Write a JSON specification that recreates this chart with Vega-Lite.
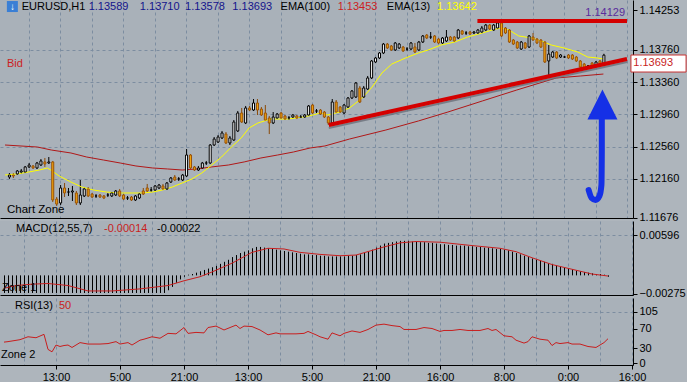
{
"$schema": "https://vega.github.io/schema/vega-lite/v6.json",
"background": "#aeb5bc",
"padding": 0,
"spacing": 3,
"bounds": "flush",
"config": {
  "font": "Liberation Sans",
  "view": {"stroke": null, "fill": "#a9b1b9"},
  "axis": {"domainColor": "#000000", "tickColor": "#000000", "labelColor": "#000000", "labelFont": "Liberation Sans", "labelFontSize": 11, "gridColor": "#7c8da0", "gridDash": [3, 3], "tickSize": 4, "labelPadding": 2, "labelOverlap": false, "labelFlush": false},
  "text": {"font": "Liberation Sans", "fontSize": 11}
},
"datasets": {
  "candles": [
{"i":0,"o":1.12182,"h":1.12232,"l":1.12158,"c":1.12207},
{"i":1,"o":1.12207,"h":1.12232,"l":1.12170,"c":1.12195},
{"i":2,"o":1.12220,"h":1.12269,"l":1.12207,"c":1.12257},
{"i":3,"o":1.12244,"h":1.12282,"l":1.12220,"c":1.12257},
{"i":4,"o":1.12244,"h":1.12319,"l":1.12232,"c":1.12307},
{"i":5,"o":1.12307,"h":1.12356,"l":1.12294,"c":1.12331},
{"i":6,"o":1.12319,"h":1.12331,"l":1.12282,"c":1.12294},
{"i":7,"o":1.12294,"h":1.12369,"l":1.12282,"c":1.12356},
{"i":8,"o":1.12331,"h":1.12405,"l":1.12319,"c":1.12381},
{"i":9,"o":1.12369,"h":1.12418,"l":1.12307,"c":1.12344},
{"i":10,"o":1.12356,"h":1.12430,"l":1.12344,"c":1.12369},
{"i":11,"o":1.12369,"h":1.12381,"l":1.11872,"c":1.11897},
{"i":12,"o":1.11909,"h":1.11934,"l":1.11823,"c":1.11847},
{"i":13,"o":1.11860,"h":1.12083,"l":1.11835,"c":1.12046},
{"i":14,"o":1.12046,"h":1.12108,"l":1.11934,"c":1.11984},
{"i":15,"o":1.11996,"h":1.12046,"l":1.11947,"c":1.11996},
{"i":16,"o":1.11996,"h":1.12071,"l":1.11885,"c":1.12009},
{"i":17,"o":1.11984,"h":1.12009,"l":1.11835,"c":1.11860},
{"i":18,"o":1.11860,"h":1.12145,"l":1.11835,"c":1.11959},
{"i":19,"o":1.11947,"h":1.12058,"l":1.11934,"c":1.12034},
{"i":20,"o":1.12034,"h":1.12058,"l":1.11934,"c":1.11947},
{"i":21,"o":1.11971,"h":1.11984,"l":1.11922,"c":1.11934},
{"i":22,"o":1.11947,"h":1.11971,"l":1.11922,"c":1.11947},
{"i":23,"o":1.11959,"h":1.11971,"l":1.11922,"c":1.11934},
{"i":24,"o":1.11947,"h":1.11959,"l":1.11909,"c":1.11922},
{"i":25,"o":1.11959,"h":1.11984,"l":1.11934,"c":1.11959},
{"i":26,"o":1.11947,"h":1.11996,"l":1.11934,"c":1.11984},
{"i":27,"o":1.11959,"h":1.12021,"l":1.11947,"c":1.12009},
{"i":28,"o":1.12009,"h":1.12034,"l":1.11934,"c":1.11947},
{"i":29,"o":1.11959,"h":1.11971,"l":1.11897,"c":1.11909},
{"i":30,"o":1.11922,"h":1.11947,"l":1.11897,"c":1.11922},
{"i":31,"o":1.11934,"h":1.11947,"l":1.11885,"c":1.11897},
{"i":32,"o":1.11897,"h":1.11959,"l":1.11885,"c":1.11947},
{"i":33,"o":1.11922,"h":1.11984,"l":1.11909,"c":1.11971},
{"i":34,"o":1.12009,"h":1.12046,"l":1.11959,"c":1.11971},
{"i":35,"o":1.12046,"h":1.12096,"l":1.11996,"c":1.12009},
{"i":36,"o":1.12021,"h":1.12058,"l":1.11996,"c":1.12021},
{"i":37,"o":1.12021,"h":1.12083,"l":1.12009,"c":1.12071},
{"i":38,"o":1.12046,"h":1.12096,"l":1.12034,"c":1.12083},
{"i":39,"o":1.12071,"h":1.12096,"l":1.12021,"c":1.12034},
{"i":40,"o":1.12034,"h":1.12120,"l":1.12021,"c":1.12108},
{"i":41,"o":1.12120,"h":1.12182,"l":1.12108,"c":1.12170},
{"i":42,"o":1.12182,"h":1.12207,"l":1.12133,"c":1.12145},
{"i":43,"o":1.12158,"h":1.12182,"l":1.12133,"c":1.12158},
{"i":44,"o":1.12145,"h":1.12220,"l":1.12133,"c":1.12207},
{"i":45,"o":1.12195,"h":1.12529,"l":1.12182,"c":1.12455},
{"i":46,"o":1.12455,"h":1.12467,"l":1.12282,"c":1.12294},
{"i":47,"o":1.12307,"h":1.12319,"l":1.12257,"c":1.12269},
{"i":48,"o":1.12269,"h":1.12319,"l":1.12257,"c":1.12294},
{"i":49,"o":1.12294,"h":1.12369,"l":1.12282,"c":1.12356},
{"i":50,"o":1.12356,"h":1.12381,"l":1.12331,"c":1.12356},
{"i":51,"o":1.12356,"h":1.12591,"l":1.12344,"c":1.12579},
{"i":52,"o":1.12579,"h":1.12678,"l":1.12567,"c":1.12653},
{"i":53,"o":1.12616,"h":1.12703,"l":1.12604,"c":1.12678},
{"i":54,"o":1.12666,"h":1.12753,"l":1.12653,"c":1.12728},
{"i":55,"o":1.12715,"h":1.12740,"l":1.12591,"c":1.12604},
{"i":56,"o":1.12604,"h":1.12691,"l":1.12579,"c":1.12666},
{"i":57,"o":1.12641,"h":1.12889,"l":1.12629,"c":1.12864},
{"i":58,"o":1.12753,"h":1.13001,"l":1.12740,"c":1.12976},
{"i":59,"o":1.12976,"h":1.13038,"l":1.12852,"c":1.12864},
{"i":60,"o":1.12852,"h":1.13063,"l":1.12839,"c":1.13038},
{"i":61,"o":1.13038,"h":1.13063,"l":1.13001,"c":1.13013},
{"i":62,"o":1.13013,"h":1.13149,"l":1.13001,"c":1.13100},
{"i":63,"o":1.13100,"h":1.13149,"l":1.12951,"c":1.13013},
{"i":64,"o":1.13025,"h":1.13050,"l":1.12939,"c":1.12951},
{"i":65,"o":1.12976,"h":1.13075,"l":1.12877,"c":1.12889},
{"i":66,"o":1.12914,"h":1.12939,"l":1.12715,"c":1.12852},
{"i":67,"o":1.12852,"h":1.12988,"l":1.12839,"c":1.12926},
{"i":68,"o":1.12914,"h":1.12976,"l":1.12901,"c":1.12963},
{"i":69,"o":1.12976,"h":1.12988,"l":1.12901,"c":1.12914},
{"i":70,"o":1.12939,"h":1.12951,"l":1.12889,"c":1.12901},
{"i":71,"o":1.12914,"h":1.12939,"l":1.12889,"c":1.12914},
{"i":72,"o":1.12926,"h":1.12963,"l":1.12914,"c":1.12951},
{"i":73,"o":1.12939,"h":1.12951,"l":1.12901,"c":1.12914},
{"i":74,"o":1.12926,"h":1.12951,"l":1.12914,"c":1.12926},
{"i":75,"o":1.12926,"h":1.12963,"l":1.12914,"c":1.12951},
{"i":76,"o":1.12951,"h":1.13075,"l":1.12939,"c":1.13063},
{"i":77,"o":1.13075,"h":1.13087,"l":1.12963,"c":1.12976},
{"i":78,"o":1.13001,"h":1.13025,"l":1.12976,"c":1.13001},
{"i":79,"o":1.13013,"h":1.13025,"l":1.12951,"c":1.12963},
{"i":80,"o":1.12988,"h":1.13001,"l":1.12914,"c":1.12926},
{"i":81,"o":1.12926,"h":1.12939,"l":1.12827,"c":1.12852},
{"i":82,"o":1.12852,"h":1.13149,"l":1.12839,"c":1.13112},
{"i":83,"o":1.13112,"h":1.13137,"l":1.12976,"c":1.12988},
{"i":84,"o":1.13050,"h":1.13063,"l":1.12976,"c":1.12988},
{"i":85,"o":1.12976,"h":1.13087,"l":1.12963,"c":1.13075},
{"i":86,"o":1.13050,"h":1.13174,"l":1.13038,"c":1.13162},
{"i":87,"o":1.13162,"h":1.13261,"l":1.13149,"c":1.13249},
{"i":88,"o":1.13174,"h":1.13360,"l":1.13162,"c":1.13348},
{"i":89,"o":1.13286,"h":1.13311,"l":1.13100,"c":1.13112},
{"i":90,"o":1.13174,"h":1.13311,"l":1.13162,"c":1.13286},
{"i":91,"o":1.13273,"h":1.13435,"l":1.13261,"c":1.13410},
{"i":92,"o":1.13410,"h":1.13633,"l":1.13397,"c":1.13621},
{"i":93,"o":1.13608,"h":1.13670,"l":1.13596,"c":1.13658},
{"i":94,"o":1.13658,"h":1.13732,"l":1.13645,"c":1.13720},
{"i":95,"o":1.13720,"h":1.13844,"l":1.13707,"c":1.13831},
{"i":96,"o":1.13831,"h":1.13844,"l":1.13769,"c":1.13782},
{"i":97,"o":1.13807,"h":1.13819,"l":1.13745,"c":1.13757},
{"i":98,"o":1.13757,"h":1.13856,"l":1.13745,"c":1.13844},
{"i":99,"o":1.13782,"h":1.13844,"l":1.13769,"c":1.13831},
{"i":100,"o":1.13794,"h":1.13807,"l":1.13732,"c":1.13745},
{"i":101,"o":1.13769,"h":1.13794,"l":1.13745,"c":1.13769},
{"i":102,"o":1.13769,"h":1.13856,"l":1.13757,"c":1.13844},
{"i":103,"o":1.13794,"h":1.13844,"l":1.13720,"c":1.13732},
{"i":104,"o":1.13757,"h":1.13869,"l":1.13745,"c":1.13856},
{"i":105,"o":1.13856,"h":1.13943,"l":1.13844,"c":1.13931},
{"i":106,"o":1.13943,"h":1.13955,"l":1.13893,"c":1.13906},
{"i":107,"o":1.13918,"h":1.13980,"l":1.13893,"c":1.13918},
{"i":108,"o":1.13931,"h":1.13943,"l":1.13844,"c":1.13856},
{"i":109,"o":1.13893,"h":1.13906,"l":1.13831,"c":1.13844},
{"i":110,"o":1.13844,"h":1.13918,"l":1.13831,"c":1.13906},
{"i":111,"o":1.13869,"h":1.14005,"l":1.13856,"c":1.13918},
{"i":112,"o":1.13918,"h":1.13931,"l":1.13869,"c":1.13881},
{"i":113,"o":1.13918,"h":1.13931,"l":1.13856,"c":1.13869},
{"i":114,"o":1.13906,"h":1.14017,"l":1.13893,"c":1.14005},
{"i":115,"o":1.13993,"h":1.14005,"l":1.13943,"c":1.13955},
{"i":116,"o":1.13968,"h":1.13993,"l":1.13943,"c":1.13968},
{"i":117,"o":1.13980,"h":1.13993,"l":1.13943,"c":1.13955},
{"i":118,"o":1.13968,"h":1.13993,"l":1.13955,"c":1.13980},
{"i":119,"o":1.13968,"h":1.14017,"l":1.13955,"c":1.14005},
{"i":120,"o":1.13980,"h":1.14055,"l":1.13968,"c":1.14030},
{"i":121,"o":1.14005,"h":1.14080,"l":1.13993,"c":1.14067},
{"i":122,"o":1.14067,"h":1.14080,"l":1.14005,"c":1.14017},
{"i":123,"o":1.14005,"h":1.14080,"l":1.13993,"c":1.14067},
{"i":124,"o":1.14030,"h":1.14105,"l":1.14017,"c":1.14092},
{"i":125,"o":1.14092,"h":1.14129,"l":1.13918,"c":1.13931},
{"i":126,"o":1.14030,"h":1.14042,"l":1.13955,"c":1.13968},
{"i":127,"o":1.14005,"h":1.14017,"l":1.13844,"c":1.13856},
{"i":128,"o":1.13881,"h":1.13893,"l":1.13819,"c":1.13831},
{"i":129,"o":1.13856,"h":1.13869,"l":1.13769,"c":1.13782},
{"i":130,"o":1.13769,"h":1.13869,"l":1.13757,"c":1.13856},
{"i":131,"o":1.13844,"h":1.13856,"l":1.13769,"c":1.13782},
{"i":132,"o":1.13794,"h":1.13943,"l":1.13782,"c":1.13931},
{"i":133,"o":1.13918,"h":1.13968,"l":1.13869,"c":1.13881},
{"i":134,"o":1.13893,"h":1.13906,"l":1.13831,"c":1.13844},
{"i":135,"o":1.13881,"h":1.13893,"l":1.13782,"c":1.13794},
{"i":136,"o":1.13856,"h":1.13869,"l":1.13596,"c":1.13608},
{"i":137,"o":1.13621,"h":1.13819,"l":1.13447,"c":1.13707},
{"i":138,"o":1.13670,"h":1.13745,"l":1.13658,"c":1.13732},
{"i":139,"o":1.13732,"h":1.13745,"l":1.13645,"c":1.13658},
{"i":140,"o":1.13670,"h":1.13707,"l":1.13658,"c":1.13695},
{"i":141,"o":1.13670,"h":1.13683,"l":1.13658,"c":1.13670},
{"i":142,"o":1.13695,"h":1.13707,"l":1.13645,"c":1.13658},
{"i":143,"o":1.13695,"h":1.13707,"l":1.13633,"c":1.13645},
{"i":144,"o":1.13670,"h":1.13683,"l":1.13608,"c":1.13621},
{"i":145,"o":1.13621,"h":1.13633,"l":1.13534,"c":1.13546},
{"i":146,"o":1.13583,"h":1.13596,"l":1.13521,"c":1.13534},
{"i":147,"o":1.13559,"h":1.13571,"l":1.13534,"c":1.13559},
{"i":148,"o":1.13596,"h":1.13608,"l":1.13534,"c":1.13546},
{"i":149,"o":1.13571,"h":1.13621,"l":1.13559,"c":1.13608},
{"i":150,"o":1.13621,"h":1.13633,"l":1.13571,"c":1.13583},
{"i":151,"o":1.13589,"h":1.13710,"l":1.13578,"c":1.13693}
  ],
  "ema13": [
{"i":-1,"v":1.12207},{"i":2,"v":1.12220},{"i":5,"v":1.12244},{"i":7.75,"v":1.12269},{"i":9.75,"v":1.12294},{"i":11,"v":1.12257},{"i":12.75,"v":1.12195},{"i":15.75,"v":1.12120},{"i":18.5,"v":1.12058},{"i":21.5,"v":1.12021},{"i":24.75,"v":1.11996},{"i":28.25,"v":1.11984},{"i":31.5,"v":1.11984},{"i":34,"v":1.11984},{"i":36.5,"v":1.11996},{"i":39,"v":1.12021},{"i":41.5,"v":1.12058},{"i":44,"v":1.12108},{"i":46.5,"v":1.12158},{"i":49,"v":1.12232},{"i":51.5,"v":1.12331},{"i":54,"v":1.12430},{"i":56.5,"v":1.12554},{"i":59,"v":1.12666},{"i":61,"v":1.12790},{"i":63.25,"v":1.12852},{"i":66.5,"v":1.12901},{"i":70.75,"v":1.12901},{"i":74.75,"v":1.12926},{"i":77.25,"v":1.12951},{"i":79,"v":1.12976},{"i":81,"v":1.12951},{"i":84,"v":1.12988},{"i":86.5,"v":1.13038},{"i":89.75,"v":1.13162},{"i":92.25,"v":1.13298},{"i":94.75,"v":1.13472},{"i":97.25,"v":1.13583},{"i":100.75,"v":1.13658},{"i":104,"v":1.13720},{"i":106.5,"v":1.13757},{"i":109.75,"v":1.13819},{"i":113.25,"v":1.13856},{"i":116.5,"v":1.13918},{"i":120.25,"v":1.13968},{"i":122.75,"v":1.14005},{"i":125,"v":1.14030},{"i":127,"v":1.14005},{"i":129.5,"v":1.13931},{"i":132.75,"v":1.13906},{"i":135.25,"v":1.13869},{"i":137.75,"v":1.13819},{"i":141,"v":1.13782},{"i":144.5,"v":1.13732},{"i":147,"v":1.13670},{"i":149.5,"v":1.13658},{"i":151,"v":1.13645}
  ],
  "ema100": [
{"i":-1,"v":1.12579},{"i":7.25,"v":1.12554},{"i":10.75,"v":1.12517},{"i":15.75,"v":1.12480},{"i":19.75,"v":1.12430},{"i":24,"v":1.12393},{"i":28.25,"v":1.12356},{"i":32.25,"v":1.12319},{"i":36.5,"v":1.12294},{"i":40.25,"v":1.12282},{"i":44,"v":1.12269},{"i":47.75,"v":1.12282},{"i":51.5,"v":1.12307},{"i":55.75,"v":1.12331},{"i":59.75,"v":1.12369},{"i":64,"v":1.12418},{"i":68.25,"v":1.12455},{"i":72.25,"v":1.12492},{"i":76.5,"v":1.12542},{"i":80.25,"v":1.12567},{"i":86.5,"v":1.12653},{"i":95.75,"v":1.12765},{"i":104,"v":1.12877},{"i":111.5,"v":1.12988},{"i":120.25,"v":1.13125},{"i":129,"v":1.13261},{"i":139,"v":1.13410},{"i":145.25,"v":1.13435},{"i":151,"v":1.13459}
  ],
  "macd": [
{"i":0,"m":-0.0026},{"i":1,"m":-0.0026},{"i":2,"m":-0.0026},{"i":3,"m":-0.0026},{"i":4,"m":-0.0026},{"i":5,"m":-0.0026},{"i":6,"m":-0.0026},{"i":7,"m":-0.0026},{"i":8,"m":-0.0026},{"i":9,"m":-0.0026},{"i":10,"m":-0.0026},{"i":11,"m":-0.0026},{"i":12,"m":-0.0026},{"i":13,"m":-0.0026},{"i":14,"m":-0.0026},{"i":15,"m":-0.0026},{"i":16,"m":-0.0026},{"i":17,"m":-0.0026},{"i":18,"m":-0.0026},{"i":19,"m":-0.0026},{"i":20,"m":-0.0026},{"i":21,"m":-0.0026},{"i":22,"m":-0.0026},{"i":23,"m":-0.0026},{"i":24,"m":-0.0026},{"i":25,"m":-0.0026},{"i":26,"m":-0.0026},{"i":27,"m":-0.0026},{"i":28,"m":-0.0026},{"i":29,"m":-0.0026},{"i":30,"m":-0.0026},{"i":31,"m":-0.0026},{"i":32,"m":-0.0026},{"i":33,"m":-0.0026},{"i":34,"m":-0.0026},{"i":35,"m":-0.0026},{"i":36,"m":-0.0026},{"i":37,"m":-0.0026},{"i":38,"m":-0.0026},{"i":39,"m":-0.0026},{"i":40,"m":-0.0026},
{"i":41,"m":-0.0022},{"i":42,"m":-0.0017},{"i":43,"m":-0.0011},{"i":44,"m":-0.0006},{"i":45,"m":-0.0002},{"i":46,"m":0.0001},{"i":47,"m":0.0002},{"i":48,"m":0.0004},{"i":49,"m":0.0006},{"i":50,"m":0.0008},{"i":51,"m":0.0010},{"i":52,"m":0.0012},{"i":53,"m":0.0014},{"i":54,"m":0.0017},{"i":55,"m":0.0020},{"i":56,"m":0.0023},{"i":57,"m":0.0027},{"i":58,"m":0.0030},{"i":59,"m":0.0033},{"i":60,"m":0.0035},{"i":61,"m":0.0037},{"i":62,"m":0.0040},{"i":63,"m":0.0042},{"i":64,"m":0.0042},{"i":65,"m":0.0041},{"i":66,"m":0.0040},{"i":67,"m":0.0039},{"i":68,"m":0.0038},{"i":69,"m":0.0037},{"i":70,"m":0.0036},{"i":71,"m":0.0035},{"i":72,"m":0.0034},{"i":73,"m":0.0033},{"i":74,"m":0.0032},{"i":75,"m":0.0031},{"i":76,"m":0.0031},{"i":77,"m":0.0030},{"i":78,"m":0.0030},{"i":79,"m":0.0029},{"i":80,"m":0.0029},{"i":81,"m":0.0028},{"i":82,"m":0.0028},{"i":83,"m":0.0028},{"i":84,"m":0.0028},{"i":85,"m":0.0028},{"i":86,"m":0.0029},{"i":87,"m":0.0029},{"i":88,"m":0.0030},{"i":89,"m":0.0031},{"i":90,"m":0.0033},{"i":91,"m":0.0035},{"i":92,"m":0.0038},{"i":93,"m":0.0041},{"i":94,"m":0.0044},{"i":95,"m":0.0047},{"i":96,"m":0.0048},{"i":97,"m":0.0049},{"i":98,"m":0.0050},{"i":99,"m":0.0051},{"i":100,"m":0.0051},{"i":101,"m":0.0051},{"i":102,"m":0.0050},{"i":103,"m":0.0050},{"i":104,"m":0.0049},{"i":105,"m":0.0049},{"i":106,"m":0.0048},{"i":107,"m":0.0048},{"i":108,"m":0.0047},{"i":109,"m":0.0046},{"i":110,"m":0.0046},{"i":111,"m":0.0045},{"i":112,"m":0.0045},{"i":113,"m":0.0044},{"i":114,"m":0.0044},{"i":115,"m":0.0044},{"i":116,"m":0.0043},{"i":117,"m":0.0043},{"i":118,"m":0.0042},{"i":119,"m":0.0042},{"i":120,"m":0.0041},{"i":121,"m":0.0041},{"i":122,"m":0.0040},{"i":123,"m":0.0039},{"i":124,"m":0.0039},{"i":125,"m":0.0038},{"i":126,"m":0.0037},{"i":127,"m":0.0035},{"i":128,"m":0.0033},{"i":129,"m":0.0031},{"i":130,"m":0.0029},{"i":131,"m":0.0027},{"i":132,"m":0.0025},{"i":133,"m":0.0023},{"i":134,"m":0.0022},{"i":135,"m":0.0020},{"i":136,"m":0.0018},{"i":137,"m":0.0017},{"i":138,"m":0.0015},{"i":139,"m":0.0013},{"i":140,"m":0.0012},{"i":141,"m":0.0010},{"i":142,"m":0.0009},{"i":143,"m":0.0007},{"i":144,"m":0.0006},{"i":145,"m":0.0005},{"i":146,"m":0.0004},{"i":147,"m":0.0003},{"i":148,"m":0.0002},{"i":149,"m":0.0002},{"i":150,"m":0.0001},{"i":151,"m":-0.0002}
  ],
  "signal": [
{"i":0,"s":-0.0019},{"i":3,"s":-0.0015},{"i":7,"s":-0.0013},{"i":11,"s":-0.0012},{"i":16,"s":-0.0015},{"i":21,"s":-0.0023},{"i":27,"s":-0.0023},{"i":34,"s":-0.0020},{"i":41,"s":-0.0015},{"i":45,"s":-0.0008},{"i":49,"s":-0.0002},{"i":52,"s":0.0005},{"i":57,"s":0.0018},{"i":62,"s":0.0034},{"i":66,"s":0.0040},{"i":70,"s":0.0039},{"i":74,"s":0.0034},{"i":79,"s":0.0031},{"i":84,"s":0.0029},{"i":88,"s":0.0030},{"i":95,"s":0.0042},{"i":99,"s":0.0048},{"i":103,"s":0.0050},{"i":109,"s":0.0049},{"i":117,"s":0.0044},{"i":124,"s":0.0040},{"i":128,"s":0.0035},{"i":132,"s":0.0026},{"i":137,"s":0.0016},{"i":142,"s":0.0009},{"i":147,"s":0.0002},{"i":151,"s":-0.0001}
  ],
  "rsi": [
{"i":0,"r":43},{"i":1,"r":44},{"i":4,"r":48},{"i":5,"r":51},{"i":6,"r":54},{"i":8,"r":52},{"i":10,"r":59},{"i":11,"r":28},{"i":12,"r":23},{"i":13,"r":37},{"i":14,"r":34},{"i":15,"r":36},{"i":16,"r":37},{"i":17,"r":32},{"i":19,"r":42},{"i":21,"r":39},{"i":24,"r":39},{"i":26,"r":40},{"i":28,"r":44},{"i":29,"r":39},{"i":31,"r":42},{"i":32,"r":37},{"i":34,"r":47},{"i":35,"r":49},{"i":37,"r":54},{"i":39,"r":51},{"i":41,"r":61},{"i":43,"r":60},{"i":45,"r":73},{"i":46,"r":61},{"i":48,"r":63},{"i":50,"r":62},{"i":51,"r":73},{"i":53,"r":76},{"i":55,"r":68},{"i":58,"r":78},{"i":59,"r":71},{"i":60,"r":76},{"i":62,"r":75},{"i":64,"r":68},{"i":66,"r":58},{"i":68,"r":62},{"i":69,"r":60},{"i":73,"r":60},{"i":75,"r":61},{"i":76,"r":65},{"i":78,"r":58},{"i":79,"r":54},{"i":81,"r":49},{"i":82,"r":62},{"i":84,"r":56},{"i":85,"r":61},{"i":87,"r":66},{"i":89,"r":63},{"i":91,"r":69},{"i":93,"r":78},{"i":95,"r":80},{"i":97,"r":77},{"i":99,"r":75},{"i":100,"r":69},{"i":103,"r":69},{"i":105,"r":73},{"i":107,"r":71},{"i":109,"r":65},{"i":110,"r":67},{"i":112,"r":67},{"i":114,"r":69},{"i":116,"r":67},{"i":119,"r":67},{"i":121,"r":71},{"i":122,"r":67},{"i":123,"r":69},{"i":125,"r":56},{"i":127,"r":54},{"i":128,"r":47},{"i":129,"r":44},{"i":130,"r":41},{"i":131,"r":44},{"i":132,"r":54},{"i":134,"r":49},{"i":136,"r":47},{"i":137,"r":36},{"i":138,"r":42},{"i":139,"r":40},{"i":141,"r":42},{"i":142,"r":39},{"i":144,"r":39},{"i":146,"r":34},{"i":148,"r":32},{"i":149,"r":37},{"i":150,"r":42},{"i":151,"r":50}
  ]
},
"vconcat": [
{
  "width": 633, "height": 218,
  "resolve": {"axis": {"x": "independent", "y": "independent"}},
  "layer": [
    {"data": {"name": "candles"}, "mark": {"type": "rule", "strokeWidth": 1, "xOffset": 0.5},
     "encoding": {"x": {"field": "i", "type": "quantitative", "scale": {"domain": [-1, 157.25], "nice": false, "zero": false},
        "axis": {"orient": "bottom", "values": [5,13,21,29,37,45,53,61,69,77,85,93,101,109,117,125,133,141,149,157], "labels": false, "ticks": false, "domain": true, "grid": true, "title": null}},
       "y": {"field": "l", "type": "quantitative", "scale": {"domain": [1.11674, 1.14377], "nice": false, "zero": false},
        "axis": {"orient": "right", "values": [1.14253, 1.1376, 1.1336, 1.1296, 1.1256, 1.1216, 1.11676], "format": ".5f", "title": null, "grid": true, "gridOpacity": {"condition": {"test": "datum.value > 1.142 || datum.value < 1.117", "value": 0}, "value": 1}}},
       "y2": {"field": "h"},
       "color": {"condition": {"test": "datum.c >= datum.o", "value": "#000000"}, "value": "#8a4a08"}}},
    {"mark": {"type": "rule", "color": "#5a2d9c", "strokeWidth": 1},
     "encoding": {"x": {"datum": -1, "scale": {"domain": [-1, 157.25], "nice": false, "zero": false}, "axis": null}, "x2": {"datum": 157.25}, "y": {"datum": 1.14129, "scale": {"domain": [1.11674, 1.14377], "nice": false, "zero": false}, "axis": null}}},
    {"mark": {"type": "rule", "color": "#c03030", "strokeWidth": 1},
     "encoding": {"x": {"datum": -1, "scale": {"domain": [-1, 157.25], "nice": false, "zero": false}, "axis": null}, "x2": {"datum": 157.25}, "y": {"datum": 1.13693, "scale": {"domain": [1.11674, 1.14377], "nice": false, "zero": false}, "axis": null}}},
    {"data": {"name": "ema100"}, "mark": {"type": "line", "color": "#b01818", "strokeWidth": 1},
     "encoding": {"x": {"field": "i", "type": "quantitative", "scale": {"domain": [-1, 157.25], "nice": false, "zero": false}, "axis": null}, "y": {"field": "v", "type": "quantitative", "scale": {"domain": [1.11674, 1.14377], "nice": false, "zero": false}, "axis": null}}},
    {"data": {"name": "ema13"}, "mark": {"type": "line", "color": "#ffff00", "strokeWidth": 1},
     "encoding": {"x": {"field": "i", "type": "quantitative", "scale": {"domain": [-1, 157.25], "nice": false, "zero": false}, "axis": null}, "y": {"field": "v", "type": "quantitative", "scale": {"domain": [1.11674, 1.14377], "nice": false, "zero": false}, "axis": null}}},
    {"data": {"name": "candles"}, "mark": {"type": "bar", "size": 2, "strokeWidth": 1, "xOffset": 0.5},
     "encoding": {"x": {"field": "i", "type": "quantitative", "scale": {"domain": [-1, 157.25], "nice": false, "zero": false}, "axis": null},
       "y": {"field": "o", "type": "quantitative", "scale": {"domain": [1.11674, 1.14377], "nice": false, "zero": false}, "axis": null},
       "y2": {"field": "c"},
       "fill": {"condition": {"test": "datum.c >= datum.o", "value": "#ffffff"}, "value": "#f2a60c"},
       "stroke": {"condition": {"test": "datum.c >= datum.o", "value": "#000000"}, "value": "#9a5208"}}},
    {"data": {"values": [{"i": 81.25, "p": 1.12790}, {"i": 157, "p": 1.13608}]}, "mark": {"type": "line", "color": "#6a707a", "strokeWidth": 2, "opacity": 0.8},
     "encoding": {"x": {"field": "i", "type": "quantitative", "scale": {"domain": [-1, 157.25], "nice": false, "zero": false}, "axis": null}, "y": {"field": "p", "type": "quantitative", "scale": {"domain": [1.11674, 1.14377], "nice": false, "zero": false}, "axis": null}}},
    {"data": {"values": [{"i": 81.25, "p": 1.12827}, {"i": 157, "p": 1.13645}]}, "mark": {"type": "line", "color": "#d40000", "strokeWidth": 4},
     "encoding": {"x": {"field": "i", "type": "quantitative", "scale": {"domain": [-1, 157.25], "nice": false, "zero": false}, "axis": null}, "y": {"field": "p", "type": "quantitative", "scale": {"domain": [1.11674, 1.14377], "nice": false, "zero": false}, "axis": null}}},
    {"data": {"values": [{"i": 119, "p": 1.14117}, {"i": 157, "p": 1.14117}]}, "mark": {"type": "line", "color": "#d40000", "strokeWidth": 4},
     "encoding": {"x": {"field": "i", "type": "quantitative", "scale": {"domain": [-1, 157.25], "nice": false, "zero": false}, "axis": null}, "y": {"field": "p", "type": "quantitative", "scale": {"domain": [1.11674, 1.14377], "nice": false, "zero": false}, "axis": null}}},
    {"data": {"values": [{"k":1,"i":150.6,"p":1.12914},{"k":2,"i":150.6,"p":1.12517},{"k":3,"i":150.5,"p":1.12083},{"k":4,"i":150,"p":1.11947},{"k":5,"i":149,"p":1.11897},{"k":6,"i":148,"p":1.11922},{"k":7,"i":147.25,"p":1.12021}]},
     "mark": {"type": "line", "color": "#1530e6", "strokeWidth": 6, "strokeCap": "round", "strokeJoin": "round", "interpolate": "monotone"},
     "encoding": {"x": {"field": "i", "type": "quantitative", "scale": {"domain": [-1, 157.25], "nice": false, "zero": false}, "axis": null}, "y": {"field": "p", "type": "quantitative", "scale": {"domain": [1.11674, 1.14377], "nice": false, "zero": false}, "axis": null}, "order": {"field": "k"}}},
    {"data": {"values": [{"i": 150.75, "p": 1.13081}]},
     "mark": {"type": "point", "shape": "M0,-1L1,1L-1,1Z", "size": 900, "filled": true, "color": "#1530e6", "opacity": 1},
     "encoding": {"x": {"field": "i", "type": "quantitative", "scale": {"domain": [-1, 157.25], "nice": false, "zero": false}, "axis": null}, "y": {"field": "p", "type": "quantitative", "scale": {"domain": [1.11674, 1.14377], "nice": false, "zero": false}, "axis": null}}},
    {"data": {"values": [{"i": 0.875, "p": 1.14296}]},
     "mark": {"type": "point", "shape": "square", "size": 121, "filled": true, "color": "#3a7fd5", "opacity": 1},
     "encoding": {"x": {"field": "i", "type": "quantitative", "scale": {"domain": [-1, 157.25], "nice": false, "zero": false}, "axis": null}, "y": {"field": "p", "type": "quantitative", "scale": {"domain": [1.11674, 1.14377], "nice": false, "zero": false}, "axis": null}}},
    {"data": {"values": [{"i": 0.875, "p": 1.14296, "t": "↓"}]},
     "mark": {"type": "text", "color": "#ffffff", "fontWeight": "bold", "fontSize": 10, "align": "center", "baseline": "middle"},
     "encoding": {"x": {"field": "i", "type": "quantitative", "scale": {"domain": [-1, 157.25], "nice": false, "zero": false}, "axis": null}, "y": {"field": "p", "type": "quantitative", "scale": {"domain": [1.11674, 1.14377], "nice": false, "zero": false}, "axis": null}, "text": {"field": "t"}}},
    {"data": {"values": [{"i": 3.25, "p": 1.14259, "t": "EURUSD,H1"}, {"i": 69, "p": 1.14259, "t": "EMA(100)"}, {"i": 96, "p": 1.14259, "t": "EMA(13)"}]},
     "mark": {"type": "text", "color": "#000000", "align": "left", "baseline": "alphabetic"},
     "encoding": {"x": {"field": "i", "type": "quantitative", "scale": {"domain": [-1, 157.25], "nice": false, "zero": false}, "axis": null}, "y": {"field": "p", "type": "quantitative", "scale": {"domain": [1.11674, 1.14377], "nice": false, "zero": false}, "axis": null}, "text": {"field": "t"}}},
    {"data": {"values": [{"i": 20.25, "p": 1.14259, "t": "1.13589"}, {"i": 33.25, "p": 1.14259, "t": "1.13710"}, {"i": 44.75, "p": 1.14259, "t": "1.13578"}, {"i": 56.75, "p": 1.14259, "t": "1.13693"}]},
     "mark": {"type": "text", "color": "#14148c", "align": "left", "baseline": "alphabetic"},
     "encoding": {"x": {"field": "i", "type": "quantitative", "scale": {"domain": [-1, 157.25], "nice": false, "zero": false}, "axis": null}, "y": {"field": "p", "type": "quantitative", "scale": {"domain": [1.11674, 1.14377], "nice": false, "zero": false}, "axis": null}, "text": {"field": "t"}}},
    {"data": {"values": [{"i": 83.5, "p": 1.14259, "t": "1.13453"}, {"i": -0.5, "p": 1.13546, "t": "Bid"}]},
     "mark": {"type": "text", "color": "#cc1e1e", "align": "left", "baseline": "alphabetic"},
     "encoding": {"x": {"field": "i", "type": "quantitative", "scale": {"domain": [-1, 157.25], "nice": false, "zero": false}, "axis": null}, "y": {"field": "p", "type": "quantitative", "scale": {"domain": [1.11674, 1.14377], "nice": false, "zero": false}, "axis": null}, "text": {"field": "t"}}},
    {"data": {"values": [{"i": 108.75, "p": 1.14259, "t": "1.13642"}]},
     "mark": {"type": "text", "color": "#ffff00", "align": "left", "baseline": "alphabetic"},
     "encoding": {"x": {"field": "i", "type": "quantitative", "scale": {"domain": [-1, 157.25], "nice": false, "zero": false}, "axis": null}, "y": {"field": "p", "type": "quantitative", "scale": {"domain": [1.11674, 1.14377], "nice": false, "zero": false}, "axis": null}, "text": {"field": "t"}}},
    {"data": {"values": [{"i": 156.5, "p": 1.14179, "t": "1.14129"}]},
     "mark": {"type": "text", "color": "#5a2d9c", "align": "right", "baseline": "alphabetic"},
     "encoding": {"x": {"field": "i", "type": "quantitative", "scale": {"domain": [-1, 157.25], "nice": false, "zero": false}, "axis": null}, "y": {"field": "p", "type": "quantitative", "scale": {"domain": [1.11674, 1.14377], "nice": false, "zero": false}, "axis": null}, "text": {"field": "t"}}},
    {"data": {"values": [{"i": -0.5, "p": 1.11736, "t": "Chart Zone"}]},
     "mark": {"type": "text", "color": "#000000", "fontSize": 11.5, "align": "left", "baseline": "alphabetic"},
     "encoding": {"x": {"field": "i", "type": "quantitative", "scale": {"domain": [-1, 157.25], "nice": false, "zero": false}, "axis": null}, "y": {"field": "p", "type": "quantitative", "scale": {"domain": [1.11674, 1.14377], "nice": false, "zero": false}, "axis": null}, "text": {"field": "t"}}},
    {"data": {"values": [{"i": 158, "i2": 172, "p": 1.13695, "p2": 1.13484}]},
     "mark": {"type": "rect", "fill": "#ffffff", "stroke": "#c83232", "strokeWidth": 1},
     "encoding": {"x": {"field": "i", "type": "quantitative", "scale": {"domain": [-1, 157.25], "nice": false, "zero": false}, "axis": null}, "x2": {"field": "i2"}, "y": {"field": "p", "type": "quantitative", "scale": {"domain": [1.11674, 1.14377], "nice": false, "zero": false}, "axis": null}, "y2": {"field": "p2"}}},
    {"data": {"values": [{"i": 158.6, "p": 1.13590, "t": "1.13693"}]},
     "mark": {"type": "text", "color": "#c81e1e", "align": "left", "baseline": "middle"},
     "encoding": {"x": {"field": "i", "type": "quantitative", "scale": {"domain": [-1, 157.25], "nice": false, "zero": false}, "axis": null}, "y": {"field": "p", "type": "quantitative", "scale": {"domain": [1.11674, 1.14377], "nice": false, "zero": false}, "axis": null}, "text": {"field": "t"}}}
  ]
},
{
  "width": 633, "height": 74,
  "resolve": {"axis": {"x": "independent", "y": "independent"}},
  "layer": [
    {"data": {"name": "macd"}, "mark": {"type": "rule", "color": "#000000", "strokeWidth": 1, "xOffset": 0.5},
     "encoding": {"x": {"field": "i", "type": "quantitative", "scale": {"domain": [-1, 157.25], "nice": false, "zero": false},
        "axis": {"orient": "bottom", "values": [5,13,21,29,37,45,53,61,69,77,85,93,101,109,117,125,133,141,149,157], "labels": false, "ticks": false, "domain": true, "grid": true, "title": null}},
       "y": {"field": "m", "type": "quantitative", "scale": {"domain": [-0.0029, 0.00803], "nice": false, "zero": false},
        "axis": {"orient": "right", "values": [0.00596, -0.00275], "format": ".5f", "title": null, "grid": true, "gridOpacity": {"condition": {"test": "datum.value < 0", "value": 0}, "value": 1}}},
       "y2": {"datum": 0}}},
    {"data": {"name": "signal"}, "mark": {"type": "line", "color": "#c81e1e", "strokeWidth": 1},
     "encoding": {"x": {"field": "i", "type": "quantitative", "scale": {"domain": [-1, 157.25], "nice": false, "zero": false}, "axis": null}, "y": {"field": "s", "type": "quantitative", "scale": {"domain": [-0.0029, 0.00803], "nice": false, "zero": false}, "axis": null}}},
    {"mark": {"type": "rule", "color": "#000000", "strokeWidth": 1},
     "encoding": {"x": {"datum": -1, "scale": {"domain": [-1, 157.25], "nice": false, "zero": false}, "axis": null}, "x2": {"datum": 157.25}, "y": {"datum": 0.00803, "scale": {"domain": [-0.0029, 0.00803], "nice": false, "zero": false}, "axis": null}}},
    {"data": {"values": [{"i": 3, "p": 0.00641, "t": "MACD(12,55,7)"}, {"i": 38.25, "p": 0.00641, "t": "-0.00022"}, {"i": -0.5, "p": -0.00235, "t": "Zone 1"}]},
     "mark": {"type": "text", "color": "#000000", "align": "left", "baseline": "alphabetic"},
     "encoding": {"x": {"field": "i", "type": "quantitative", "scale": {"domain": [-1, 157.25], "nice": false, "zero": false}, "axis": null}, "y": {"field": "p", "type": "quantitative", "scale": {"domain": [-0.0029, 0.00803], "nice": false, "zero": false}, "axis": null}, "text": {"field": "t"}}},
    {"data": {"values": [{"i": 25, "p": 0.00641, "t": "-0.00014"}]},
     "mark": {"type": "text", "color": "#c81e1e", "align": "left", "baseline": "alphabetic"},
     "encoding": {"x": {"field": "i", "type": "quantitative", "scale": {"domain": [-1, 157.25], "nice": false, "zero": false}, "axis": null}, "y": {"field": "p", "type": "quantitative", "scale": {"domain": [-0.0029, 0.00803], "nice": false, "zero": false}, "axis": null}, "text": {"field": "t"}}}
  ]
},
{
  "width": 633, "height": 67,
  "resolve": {"axis": {"x": "independent", "y": "independent"}},
  "layer": [
    {"data": {"name": "rsi"}, "mark": {"type": "line", "color": "#c81e1e", "strokeWidth": 1},
     "encoding": {"x": {"field": "i", "type": "quantitative", "scale": {"domain": [-1, 157.25], "nice": false, "zero": false},
        "axis": {"orient": "bottom", "values": [5,13,21,29,37,45,53,61,69,77,85,93,101,109,117,125,133,141,149,157], "grid": true, "domain": true, "ticks": true, "title": null,
          "tickOpacity": {"condition": {"test": "(datum.value - 13) % 16 != 0", "value": 0}, "value": 1},
          "labelExpr": "(datum.value - 13) % 16 == 0 ? ['13:00','5:00','21:00','13:00','5:00','21:00','16:00','8:00','0:00','16:00'][(datum.value - 13) / 16] : ''"}},
       "y": {"field": "r", "type": "quantitative", "scale": {"domain": [-4.1, 133.8], "nice": false, "zero": false},
        "axis": {"orient": "right", "values": [105, 70, 30, 0], "format": "d", "title": null, "grid": true, "gridOpacity": {"condition": {"test": "datum.value < 100", "value": 0}, "value": 1}}}}},
    {"mark": {"type": "rule", "color": "#000000", "strokeWidth": 1},
     "encoding": {"x": {"datum": -1, "scale": {"domain": [-1, 157.25], "nice": false, "zero": false}, "axis": null}, "x2": {"datum": 157.25}, "y": {"datum": 133.8, "scale": {"domain": [-4.1, 133.8], "nice": false, "zero": false}, "axis": null}}},
    {"data": {"values": [{"i": 2.75, "p": 111, "t": "RSI(13)"}, {"i": -0.75, "p": 10, "t": "Zone 2"}]},
     "mark": {"type": "text", "color": "#000000", "align": "left", "baseline": "alphabetic"},
     "encoding": {"x": {"field": "i", "type": "quantitative", "scale": {"domain": [-1, 157.25], "nice": false, "zero": false}, "axis": null}, "y": {"field": "p", "type": "quantitative", "scale": {"domain": [-4.1, 133.8], "nice": false, "zero": false}, "axis": null}, "text": {"field": "t"}}},
    {"data": {"values": [{"i": 13.75, "p": 111, "t": "50"}]},
     "mark": {"type": "text", "color": "#c81e1e", "align": "left", "baseline": "alphabetic"},
     "encoding": {"x": {"field": "i", "type": "quantitative", "scale": {"domain": [-1, 157.25], "nice": false, "zero": false}, "axis": null}, "y": {"field": "p", "type": "quantitative", "scale": {"domain": [-4.1, 133.8], "nice": false, "zero": false}, "axis": null}, "text": {"field": "t"}}}
  ]
}
]
}
